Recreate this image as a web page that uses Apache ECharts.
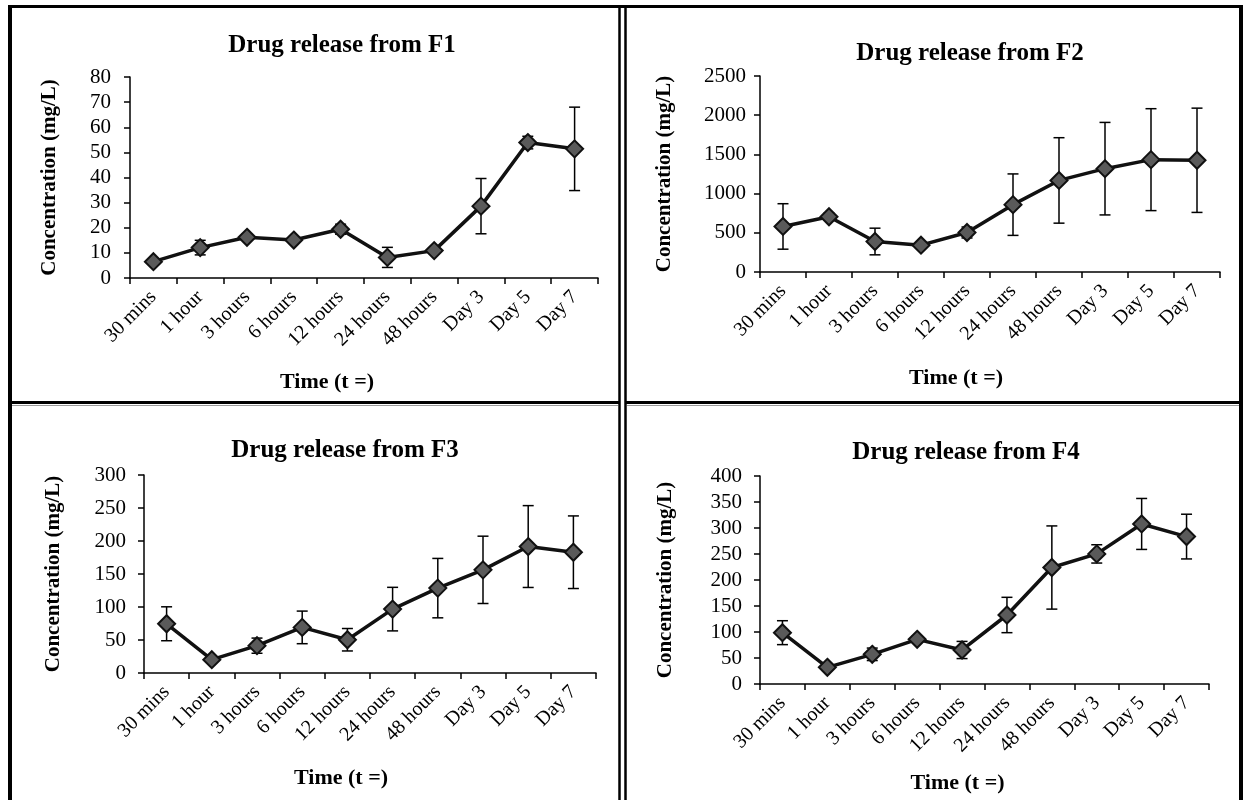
<!DOCTYPE html>
<html>
<head>
<meta charset="utf-8">
<script src="https://cdn.jsdelivr.net/npm/echarts@6/dist/echarts.min.js"></script>
<style>
html, body { margin: 0; padding: 0; background: #fff; }
#main { width: 1244px; height: 800px; }
</style>
</head>
<body>
<div id="main"></div>
<script>
const categories = ['30 mins', '1 hour', '3 hours', '6 hours', '12 hours', '24 hours', '48 hours', 'Day 3', 'Day 5', 'Day 7'];

// mean concentration and error (+/-) for each formulation
const f1Mean = [6.5, 12.1, 16.2, 15.1, 19.4, 8.2, 10.9, 28.6, 53.9, 51.4];
const f1Err = [1, 2.9, 1.2, 1, 2, 4, 1.2, 11, 2.5, 16.6];
const f2Mean = [581, 705, 389, 342, 504, 859, 1168, 1318, 1433, 1425];
const f2Err = [290, 45, 170, 40, 70, 392, 545, 590, 650, 665];
const f3Mean = [74.6, 20.2, 41.4, 69.1, 50.4, 96.8, 128.6, 156.3, 191.6, 183];
const f3Err = [25.7, 4, 11.5, 24.7, 17, 33, 45, 51, 62, 55];
const f4Mean = [98.7, 32.1, 57.1, 85.9, 65.4, 132.7, 224, 250.2, 307.8, 283.5];
const f4Err = [23, 5, 12, 6, 16.5, 34, 80, 17.6, 49, 43];

const titles = ['Drug release from F1', 'Drug release from F2', 'Drug release from F3', 'Drug release from F4'];
const yMax = [80, 2500, 300, 400];
const yStep = [10, 500, 50, 50];

const FONT = 'Liberation Serif';

const panels = [
    { mean: f1Mean, err: f1Err, grid: { left: 130, top: 77, width: 468, height: 201 }, title: [337, 28], yGap: 70, yLabelMargin: 19, xGap: 93, xShift: 74 },
    { mean: f2Mean, err: f2Err, grid: { left: 760, top: 76, width: 460, height: 196 }, title: [965, 36], yGap: 85, yLabelMargin: 14, xGap: 95, xShift: 68 },
    { mean: f3Mean, err: f3Err, grid: { left: 144, top: 475, width: 452, height: 198 }, title: [340, 433], yGap: 80, yLabelMargin: 18, xGap: 94, xShift: 58 },
    { mean: f4Mean, err: f4Err, grid: { left: 760, top: 476, width: 449, height: 208 }, title: [961, 435], yGap: 84, yLabelMargin: 18, xGap: 88, xShift: 54 }
];

function errorData(mean, err) {
    var out = [];
    for (var i = 0; i < mean.length; i++) {
        out.push([i, mean[i] - err[i], mean[i] + err[i]]);
    }
    return out;
}

function renderErrorBar(params, api) {
    var low = api.coord([api.value(0), api.value(1)]);
    var high = api.coord([api.value(0), api.value(2)]);
    var half = 5.5;
    var style = { stroke: '#000', lineWidth: 1.5 };
    return {
        type: 'group',
        children: [
            { type: 'line', shape: { x1: low[0], y1: low[1], x2: high[0], y2: high[1] }, style: style },
            { type: 'line', shape: { x1: low[0] - half, y1: low[1], x2: low[0] + half, y2: low[1] }, style: style },
            { type: 'line', shape: { x1: high[0] - half, y1: high[1], x2: high[0] + half, y2: high[1] }, style: style }
        ]
    };
}

var dom = document.getElementById('main');
var myChart = echarts.init(dom, null, { renderer: 'canvas' });

var grids = [], xAxes = [], yAxes = [], series = [], titleList = [];

panels.forEach(function (p, i) {
    grids.push(Object.assign({ outerBoundsMode: 'none', containLabel: false }, p.grid));
    titleList.push({
        text: titles[i],
        left: p.title[0],
        top: p.title[1],
        textAlign: 'center',
        textStyle: { fontFamily: FONT, fontWeight: 'bold', fontSize: 25, color: '#000' }
    });
    xAxes.push({
        type: 'category',
        gridIndex: i,
        data: categories,
        boundaryGap: true,
        axisLine: { lineStyle: { color: '#000', width: 1.5 } },
        axisTick: { show: true, length: 6, lineStyle: { color: '#000', width: 1.5 } },
        axisLabel: { interval: 0, rotate: 45, margin: 16, fontFamily: FONT, fontSize: 20, color: '#000' },
        name: 'Time (t =)',
        nameLocation: 'middle',
        nameGap: p.xGap,
        nameMoveOverlap: false,
        nameTextStyle: { fontFamily: FONT, fontWeight: 'bold', fontSize: 22, color: '#000', padding: [0, p.xShift, 0, 0] },
        splitLine: { show: false }
    });
    yAxes.push({
        type: 'value',
        gridIndex: i,
        min: 0,
        max: yMax[i],
        interval: yStep[i],
        axisLine: { show: true, lineStyle: { color: '#000', width: 1.5 } },
        axisTick: { show: true, length: 6, lineStyle: { color: '#000', width: 1.5 } },
        axisLabel: { margin: p.yLabelMargin, fontFamily: FONT, fontSize: 21, color: '#000', formatter: function (v) { return String(v); } },
        splitLine: { show: false },
        name: 'Concentration (mg/L)',
        nameLocation: 'middle',
        nameRotate: 90,
        nameGap: p.yGap,
        nameMoveOverlap: false,
        nameTextStyle: { fontFamily: FONT, fontWeight: 'bold', fontSize: 21, color: '#000' }
    });
    series.push({
        type: 'custom',
        xAxisIndex: i,
        yAxisIndex: i,
        data: errorData(p.mean, p.err),
        encode: { x: 0, y: [1, 2] },
        renderItem: renderErrorBar,
        z: 2,
        silent: true
    });
    series.push({
        type: 'line',
        xAxisIndex: i,
        yAxisIndex: i,
        data: p.mean,
        symbol: 'diamond',
        symbolSize: 17,
        lineStyle: { color: '#111', width: 3.5 },
        itemStyle: { color: '#5a5a5a', borderColor: '#111', borderWidth: 2 },
        z: 3,
        animation: false
    });
});

// panel frame (double rules between the four charts)
var frame = [
    [8, 6.5, 1243, 6.5, 3],
    [10, 5, 10, 800, 4],
    [1241, 5, 1241, 800, 4],
    [619.5, 5, 619.5, 800, 2.5],
    [625.5, 5, 625.5, 800, 2.5],
    [10, 402.5, 619.5, 402.5, 3],
    [625.5, 402.5, 1241, 402.5, 3]
];

var option = {
    animation: false,
    backgroundColor: '#fff',
    title: titleList,
    grid: grids,
    xAxis: xAxes,
    yAxis: yAxes,
    series: series,
    graphic: frame.map(function (f) {
        return { type: 'line', shape: { x1: f[0], y1: f[1], x2: f[2], y2: f[3] }, style: { stroke: '#000', lineWidth: f[4] }, silent: true };
    }).concat([
        { type: 'line', shape: { x1: 12, y1: 405.5, x2: 618, y2: 405.5 }, style: { stroke: '#999', lineWidth: 1 }, silent: true },
        { type: 'line', shape: { x1: 627, y1: 405.5, x2: 1239, y2: 405.5 }, style: { stroke: '#999', lineWidth: 1 }, silent: true }
    ])
};

if (option && typeof option === 'object') {
    myChart.setOption(option);
}

window.addEventListener('resize', myChart.resize);
</script>
</body>
</html>
